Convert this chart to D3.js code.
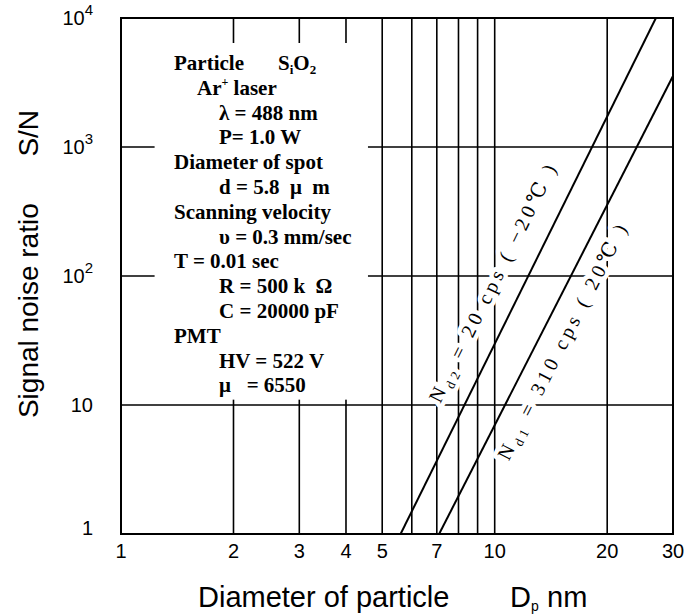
<!DOCTYPE html>
<html>
<head>
<meta charset="utf-8">
<script src="https://cdn.jsdelivr.net/npm/d3@7"></script>
<style>
  body { margin: 0; background: #fff; }
</style>
</head>
<body>
<svg id="chart" width="691" height="615"></svg>
<script>
// ---- data ----
const xTicks = [1, 2, 3, 4, 5, 7, 10, 20, 30];
const yTicks = [1, 10, 100, 1000, 10000];
const yTickBase = ["1", "10", "10", "10", "10"];
const yTickExp = ["", "", "2", "3", "4"];
const gridX = [2, 3, 4, 5, 6, 7, 8, 9, 10, 20];
const gridY = [10, 100, 1000];

// S/N lines (log-log straight), [Dp, S/N]
const lineNd2 = [[5.6, 1], [27, 10000]];
const lineNd1 = [[7.1, 1], [30, 3550]];

// area of the inset text (data units) where the grid is blanked
const boxX = [1.23, 4.58];
const boxY = [11, 6400];

const infoRows = [
  "Particle", "Ar+ laser", "λ = 488 nm", "P= 1.0 W", "Diameter of spot", "d = 5.8  μ  m",
  "Scanning velocity", "υ = 0.3 mm/sec", "T = 0.01 sec", "R = 500 k  Ω", "C = 20000 pF",
  "PMT", "HV = 522 V", "μ   = 6550"
];
const infoIndent = [0, 1, 2, 2, 0, 2, 0, 2, 0, 2, 2, 0, 2, 2];

// ---- drawing ----
const svg = d3.select("#chart");
const x = d3.scaleLog().domain([1, 30]).range([121, 673]);
const y = d3.scaleLog().domain([1, 10000]).range([534, 18]);

const grid = svg.append("g").attr("stroke", "#000").attr("stroke-width", 1.6);
grid.selectAll("line.v").data(gridX).join("line")
  .attr("x1", d => x(d)).attr("x2", d => x(d))
  .attr("y1", y(1)).attr("y2", y(10000));
grid.selectAll("line.h").data(gridY).join("line")
  .attr("x1", x(1)).attr("x2", x(30))
  .attr("y1", d => y(d)).attr("y2", d => y(d));

// blank the grid behind the inset text
svg.append("rect")
  .attr("x", x(boxX[0])).attr("y", y(boxY[1]))
  .attr("width", x(boxX[1]) - x(boxX[0]))
  .attr("height", y(boxY[0]) - y(boxY[1]))
  .attr("fill", "#fff");

const line = d3.line().x(d => x(d[0])).y(d => y(d[1]));
svg.append("clipPath").attr("id", "clip").append("rect")
  .attr("x", x(1)).attr("y", y(10000)).attr("width", x(30) - x(1)).attr("height", y(1) - y(10000));
[lineNd2, lineNd1].forEach(pts => {
  svg.append("path").attr("d", line(pts)).attr("fill", "none")
    .attr("stroke", "#000").attr("stroke-width", 2).attr("clip-path", "url(#clip)");
});

// labels along the lines
function lineLabel(pts, atSN, side, dist, sub, rest) {
  const p0 = [x(pts[0][0]), y(pts[0][1])], p1 = [x(pts[1][0]), y(pts[1][1])];
  const a = Math.atan2(p1[1] - p0[1], p1[0] - p0[0]);
  const t = (Math.log(atSN) - Math.log(pts[0][1])) / (Math.log(pts[1][1]) - Math.log(pts[0][1]));
  const xd = Math.exp(Math.log(pts[0][0]) + t * (Math.log(pts[1][0]) - Math.log(pts[0][0])));
  const px = x(xd), py = y(atSN);
  const nx = Math.sin(a) * side, ny = -Math.cos(a) * side;
  const cx = px + nx * dist, cy = py + ny * dist;
  const txt = svg.append("text")
    .attr("transform", `translate(${cx},${cy}) rotate(${a * 180 / Math.PI})`)
    .attr("text-anchor", "middle").attr("y", 7)
    .attr("font-family", "'Liberation Serif', 'DejaVu Serif', serif")
    .attr("font-size", 20).attr("letter-spacing", 4)
    .attr("stroke", "#fff").attr("stroke-width", 9).attr("stroke-linejoin", "round")
    .attr("paint-order", "stroke").attr("fill", "#000");
  txt.append("tspan").text("N");
  txt.append("tspan").attr("font-size", 13).attr("dy", 5).text(sub);
  txt.append("tspan").attr("dy", -5).text(rest);
}
lineLabel(lineNd2, 72, 1, 29, "d2", " =  20  cps  (  −20℃  )");
lineLabel(lineNd1, 38, -1, 22, "d1", " =  310  cps  (  20℃  )");

// frame
svg.append("rect")
  .attr("x", x(1)).attr("y", y(10000)).attr("width", x(30) - x(1)).attr("height", y(1) - y(10000))
  .attr("fill", "none").attr("stroke", "#000").attr("stroke-width", 2);

// axis tick labels
const sans = "'Liberation Sans', Arial, sans-serif";
svg.append("g").selectAll("text").data(xTicks).join("text")
  .attr("x", d => x(d)).attr("y", y(1) + 24)
  .attr("text-anchor", "middle").attr("font-family", sans).attr("font-size", 20)
  .text(d => d);

const yl = svg.append("g").selectAll("text").data(yTicks).join("text")
  .attr("x", 93).attr("y", (d, i) => y(d) + (i === 0 ? 1 : 7))
  .attr("text-anchor", "end").attr("font-family", sans).attr("font-size", 20);
yl.append("tspan").text((d, i) => yTickBase[i]);
yl.append("tspan").attr("font-size", 15).attr("dy", -10).text((d, i) => yTickExp[i]);

// axis titles
const xt = svg.append("text").attr("x", 198).attr("y", 607)
  .attr("font-family", sans).attr("font-size", 29);
xt.append("tspan").text("Diameter of particle");
xt.append("tspan").attr("x", 510).text("D");
xt.append("tspan").attr("font-size", 14).attr("dy", 4).text("p");
xt.append("tspan").attr("x", 547).attr("dy", -4).text("nm");

svg.append("text")
  .attr("transform", "translate(38,264) rotate(-90)")
  .attr("text-anchor", "middle").attr("font-family", sans).attr("font-size", 28)
  .attr("xml:space", "preserve")
  .text("Signal noise ratio      S/N");

// inset text
const serif = "'Liberation Serif', 'Times New Roman', serif";
const indentX = [174, 197, 219];
const info = svg.append("g").attr("font-family", serif).attr("font-weight", "bold").attr("font-size", 21);
infoRows.forEach((row, i) => {
  const t = info.append("text").attr("x", indentX[infoIndent[i]]).attr("y", 70 + i * 24.8)
    .attr("xml:space", "preserve");
  if (row === "Ar+ laser") {
    t.append("tspan").text("Ar");
    t.append("tspan").attr("font-size", 12).attr("dy", -9).text("+");
    t.append("tspan").attr("dy", 9).text(" laser");
  } else {
    t.text(row);
  }
});
const sio = info.append("text").attr("x", 278).attr("y", 70);
sio.append("tspan").text("S");
sio.append("tspan").attr("font-size", 13).attr("dy", 4).text("i");
sio.append("tspan").attr("dy", -4).text("O");
sio.append("tspan").attr("font-size", 13).attr("dy", 4).text("2");
</script>
</body>
</html>
